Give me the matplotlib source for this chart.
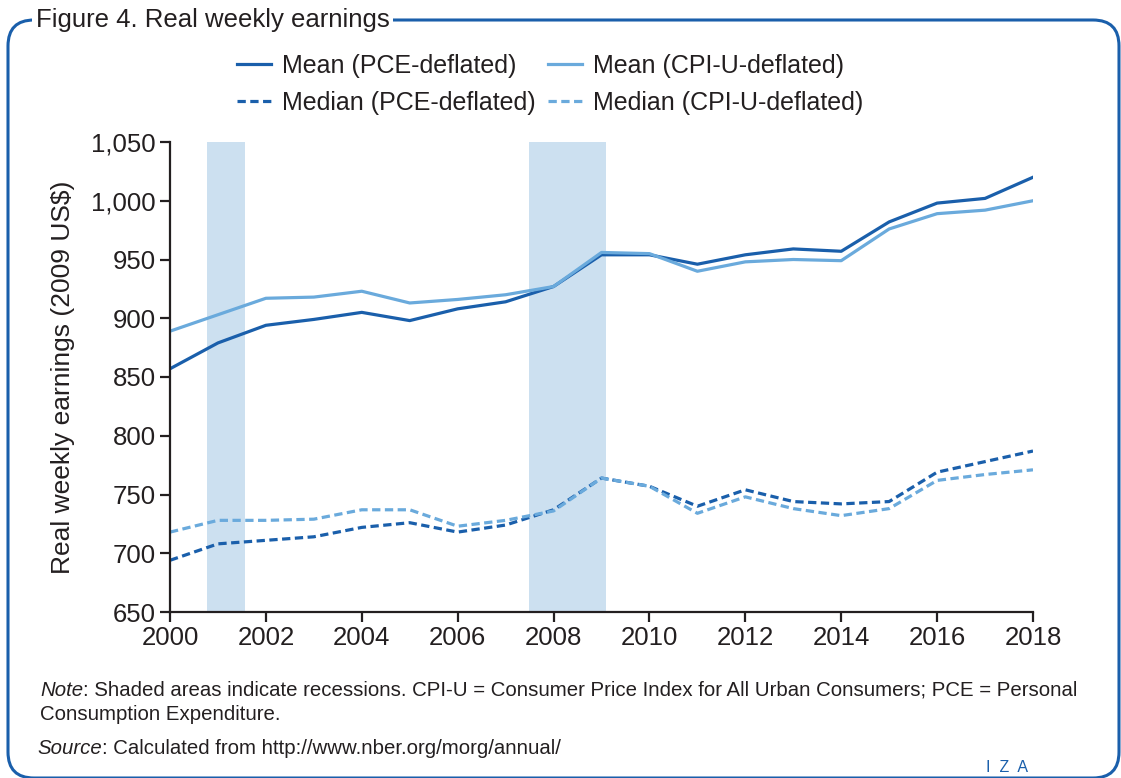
import matplotlib.pyplot as plt
from matplotlib.patches import FancyBboxPatch
from matplotlib.ticker import FuncFormatter

# Real weekly earnings, 2009 US$
years = list(range(2000, 2019))
mean_pce = [857, 879, 894, 899, 905, 898, 908, 914, 927, 954, 954, 946, 954, 959, 957, 982, 998, 1002, 1020]
mean_cpi = [889, 903, 917, 918, 923, 913, 916, 920, 927, 956, 955, 940, 948, 950, 949, 976, 989, 992, 1000]
median_pce = [694, 708, 711, 714, 722, 726, 718, 724, 737, 764, 757, 740, 754, 744, 742, 744, 769, 778, 787]
median_cpi = [718, 728, 728, 729, 737, 737, 723, 728, 736, 764, 757, 734, 748, 738, 732, 738, 762, 767, 771]

# recession bands
recessions = [(2000.77, 2001.56), (2007.49, 2009.09)]

dark = '#1a5fab'
light = '#6aaadc'
shade = '#cce0f0'
text_col = '#231f20'

plt.rcParams['font.family'] = ['Liberation Sans', 'DejaVu Sans']

fig = plt.figure(figsize=(11.21, 7.78), dpi=100)

# frame around the figure, drawn in pixel units
bg = fig.add_axes([0, 0, 1, 1])
bg.set_xlim(0, 1121)
bg.set_ylim(778, 0)
bg.axis('off')
frame = FancyBboxPatch((8, 20), 1111, 758, boxstyle='round,pad=0,rounding_size=26',
                       fill=False, edgecolor=dark, linewidth=2.2)
bg.add_patch(frame)
bg.text(36, 20, 'Figure 4. Real weekly earnings', fontsize=18.5, color=text_col,
        va='center', ha='left', zorder=5,
        bbox=dict(facecolor='white', edgecolor='none', pad=2.5))

ax = fig.add_axes([170 / 1121, 1 - 612 / 778, (1033 - 170) / 1121, (612 - 142) / 778])
for a, b in recessions:
    ax.axvspan(a, b, color=shade, lw=0, zorder=0)

dash = (0, (2.6, 1.4))
ax.plot(years, mean_pce, color=dark, lw=2.3, label='Mean (PCE-deflated)')
ax.plot(years, median_pce, color=dark, lw=2.3, ls=dash, label='Median (PCE-deflated)')
ax.plot(years, mean_cpi, color=light, lw=2.3, label='Mean (CPI-U-deflated)')
ax.plot(years, median_cpi, color=light, lw=2.3, ls=dash, label='Median (CPI-U-deflated)')

ax.set_xlim(2000, 2018)
ax.set_ylim(650, 1050)
ax.set_xticks(range(2000, 2019, 2))
ax.set_yticks(range(650, 1051, 50))
ax.yaxis.set_major_formatter(FuncFormatter(lambda v, p: f'{int(v):,}'))
ax.spines['top'].set_visible(False)
ax.spines['right'].set_visible(False)
for s in ('left', 'bottom'):
    ax.spines[s].set_linewidth(1.6)
    ax.spines[s].set_color(text_col)
ax.tick_params(direction='out', length=7, width=1.6, color=text_col,
               labelsize=18.5, labelcolor=text_col, pad=3)
ax.set_ylabel('Real weekly earnings (2009 US$)', fontsize=19, color=text_col, labelpad=12)

fig.legend(loc='upper left', bbox_to_anchor=(237 / 1121, 1 - 54 / 778), ncol=2,
           frameon=False, fontsize=18, handlelength=1.35, handletextpad=0.45,
           columnspacing=0.5, labelspacing=0.52, labelcolor=text_col,
           borderaxespad=0, borderpad=0)

# footnotes: italic lead word followed by upright text
renderer = fig.canvas.get_renderer()


def footnote(x, y, lead, rest):
    t = bg.text(x, y, lead, fontsize=14.7, style='italic', color=text_col, va='center')
    w = t.get_window_extent(renderer).width
    bg.text(x + w, y, rest, fontsize=14.7, color=text_col, va='center')


footnote(40, 690, 'Note', ': Shaded areas indicate recessions. CPI-U = Consumer Price Index for All Urban Consumers; PCE = Personal')
bg.text(40, 714, 'Consumption Expenditure.', fontsize=14.7, color=text_col, va='center')
footnote(37, 748, 'Source', ': Calculated from http://www.nber.org/morg/annual/')
bg.text(1007, 768, 'I  Z  A', fontsize=11.5, color=dark, ha='center', va='center')

fig.savefig('out.png', dpi=100)
